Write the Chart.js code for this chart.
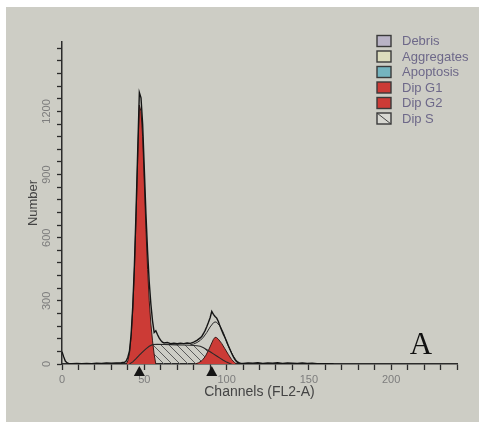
<!DOCTYPE html>
<html>
<head>
<meta charset="utf-8">
<title>DNA histogram A</title>
<script src="https://cdn.jsdelivr.net/npm/chart.js@4.4.1/dist/chart.umd.min.js"></script>
<style>
  html, body { margin: 0; padding: 0; background: #ffffff; }
  #hist { display: block; }
</style>
</head>
<body>
<canvas id="hist" width="479" height="422"></canvas>
<script>
// --- Histogram data (channel, count) ---
const totalChannels = [0,1,2,3,4,6,9,12,15,18,21,24,27,30,33,36,38,39,40,41,42,43,44,45,46,47,48,49,50,51,52,53,54,55,56,57,58,59,60,61,62,64,66,68,70,72,74,76,78,80,82,84,85,86,87,88,89,90,91,92,93,94,95,96,97,98,99,100,101,102,103,104,105,106,107,108,110,113,116,119,122,125,128,131,134,137,140,143,146,149,152,155,160,165];
const totalCounts = [58,35,14,6,3,2,3,2,3,2,4,3,5,4,5,6,8,14,32,62,140,275,470,728,1015,1290,1265,1140,930,715,535,390,285,205,150,158,140,124,112,104,100,102,97,99,96,99,97,100,98,104,112,124,132,145,160,178,198,220,250,236,226,218,202,180,160,142,126,108,88,70,52,36,22,12,6,4,3,5,4,6,3,5,4,6,3,5,4,3,5,3,4,2,1,0];

// model fit around the G2 peak
const fitChannels = [78,80,82,84,86,88,90,92,93,94,96,98,100,102,104,106,108,110];
const fitCounts = [92,95,102,112,128,150,176,196,200,198,180,150,104,70,38,16,5,0];

const g1Channels = [39,40,41,42,43,44,45,46,47,48,49,50,51,52,53,54,55,56,57];
const g1Counts = [0,15,50,130,260,450,700,980,1230,1200,1080,860,640,450,300,190,110,45,0];

const g2Channels = [81,83,85,87,89,91,92,93,94,95,97,99,101,103,105,106];
const g2Counts = [0,6,16,35,65,100,117,127,125,118,98,72,46,22,6,0];

const sChannels = [41,43,45,47,49,51,53,55,58,62,66,70,74,78,82,84,86,88,90,92,94,96,98,100,102,103];
const sCounts = [0,10,25,42,58,72,84,92,94,93,92,91,90,89,87,84,77,68,58,48,38,28,18,9,2,0];

const markerChannels = [47, 91];

const xTickLabels = [0, 50, 100, 150, 200];
const yTickLabels = [0, 300, 600, 900, 1200];

const legendLabels = ['Debris', 'Aggregates', 'Apoptosis', 'Dip G1', 'Dip G2', 'Dip S'];

// --- styles ---
const PAPER = '#cdcdc5';
const INK = '#2b2b2b';
const RED = '#cc3b36';
const legendFills = ['#b9b3c6', '#dcdcbc', '#74b4bf', RED, RED, 'hatch'];

function toPoints(chs, vals) {
    return chs.map((c, i) => ({ x: c, y: vals[i] }));
}

function makeHatch() {
    const c = document.createElement('canvas');
    c.width = 8; c.height = 8;
    const p = c.getContext('2d');
    p.strokeStyle = '#5a5a5a';
    p.lineWidth = 1;
    p.beginPath();
    p.moveTo(0, 0); p.lineTo(8, 8);
    p.moveTo(-1, 7); p.lineTo(1, 9);
    p.moveTo(7, -1); p.lineTo(9, 1);
    p.stroke();
    return p.createPattern(c, 'repeat');
}

const ctx = document.getElementById('hist').getContext('2d');
const hatch = makeHatch();

// --- plugins: paper, cycle markers, legend, panel letter ---
const paperPlugin = {
    id: 'paper',
    beforeDraw(chart) {
        const c = chart.ctx;
        c.save();
        c.fillStyle = '#ffffff';
        c.fillRect(0, 0, chart.width, chart.height);
        c.fillStyle = PAPER;
        c.fillRect(6, 7, chart.width - 6, chart.height - 7);
        c.restore();
    }
};

const markerPlugin = {
    id: 'markers',
    afterDraw(chart) {
        const c = chart.ctx;
        const xs = chart.scales.x;
        const base = chart.chartArea.bottom;
        c.save();
        c.fillStyle = '#151515';
        markerChannels.forEach(ch => {
            const px = xs.getPixelForValue(ch);
            c.beginPath();
            c.moveTo(px, base + 2);
            c.lineTo(px + 5.5, base + 12);
            c.lineTo(px - 5.5, base + 12);
            c.closePath();
            c.fill();
        });
        c.restore();
    }
};

const legendPlugin = {
    id: 'cornerLegend',
    afterDraw(chart) {
        const c = chart.ctx;
        c.save();
        c.font = '13px "Liberation Sans", Arial, sans-serif';
        c.textBaseline = 'middle';
        legendLabels.forEach((label, i) => {
            const cy = 41 + i * 15.5;
            const bx = 377, by = cy - 5.5, bw = 14, bh = 11;
            if (legendFills[i] === 'hatch') {
                c.fillStyle = '#d8d8d2';
                c.fillRect(bx, by, bw, bh);
                c.strokeStyle = '#444';
                c.lineWidth = 1;
                c.beginPath();
                c.moveTo(bx, by); c.lineTo(bx + bw, by + bh);
                c.stroke();
            } else {
                c.fillStyle = legendFills[i];
                c.fillRect(bx, by, bw, bh);
            }
            c.strokeStyle = '#3a3a3a';
            c.lineWidth = 1.4;
            c.strokeRect(bx, by, bw, bh);
            c.fillStyle = '#6d6889';
            c.fillText(label, 402, cy + 0.5);
        });
        c.restore();
    }
};

const letterPlugin = {
    id: 'panelLetter',
    afterDraw(chart) {
        const c = chart.ctx;
        c.save();
        c.font = '31px "Liberation Serif", "Times New Roman", serif';
        c.fillStyle = '#111';
        c.textAlign = 'center';
        c.textBaseline = 'alphabetic';
        c.fillText('A', 421, 354);
        c.restore();
    }
};

// --- datasets (first in list is drawn on top) ---
const lineBase = { pointRadius: 0, tension: 0, fill: false };

new Chart(ctx, {
    type: 'line',
    data: {
        datasets: [
            Object.assign({}, lineBase, { label: 'Total', data: toPoints(totalChannels, totalCounts), borderColor: '#141414', borderWidth: 1.4 }),
            Object.assign({}, lineBase, { label: 'Fit', data: toPoints(fitChannels, fitCounts), borderColor: '#2a2a2a', borderWidth: 1 }),
            Object.assign({}, lineBase, { label: 'Dip S outline', data: toPoints(sChannels, sCounts), borderColor: '#2a2a2a', borderWidth: 1.1 }),
            Object.assign({}, lineBase, { label: 'Dip G2', data: toPoints(g2Channels, g2Counts), borderColor: '#3a1a18', borderWidth: 1, backgroundColor: RED, fill: 'origin' }),
            Object.assign({}, lineBase, { label: 'Dip G1', data: toPoints(g1Channels, g1Counts), borderColor: '#3a1a18', borderWidth: 1, backgroundColor: RED, fill: 'origin' }),
            Object.assign({}, lineBase, { label: 'Dip S', data: toPoints(sChannels, sCounts), borderWidth: 0, borderColor: 'rgba(0,0,0,0)', backgroundColor: hatch, fill: 'origin' })
        ]
    },
    options: {
        responsive: false,
        animation: false,
        devicePixelRatio: 1,
        layout: { padding: { top: 42, right: 22, left: 0, bottom: 0 } },
        plugins: { legend: { display: false }, tooltip: { enabled: false } },
        scales: {
            x: {
                type: 'linear',
                min: 0,
                max: 240,
                afterFit: s => { s.height = 58; },
                border: { color: INK, width: 1.5 },
                grid: { drawOnChartArea: false, tickLength: 6, tickColor: INK, tickWidth: 1.3 },
                ticks: {
                    stepSize: 10,
                    autoSkip: false,
                    maxRotation: 0,
                    padding: 3,
                    color: '#7d7d7d',
                    font: { family: '"Liberation Sans", Arial, sans-serif', size: 11 },
                    callback: v => xTickLabels.includes(v) ? String(v) : ''
                },
                title: {
                    display: true,
                    text: 'Channels (FL2-A)',
                    color: '#444',
                    font: { family: '"Liberation Sans", Arial, sans-serif', size: 14 },
                    padding: { bottom: 21 }
                }
            },
            y: {
                min: 0,
                max: 1530,
                afterFit: s => { s.width = 62; },
                border: { color: INK, width: 1.5 },
                grid: { drawOnChartArea: false, tickLength: 5, tickColor: INK, tickWidth: 1.3 },
                ticks: {
                    stepSize: 60,
                    includeBounds: false,
                    autoSkip: false,
                    minRotation: 90,
                    maxRotation: 90,
                    crossAlign: 'center',
                    padding: -2,
                    color: '#7d7d7d',
                    font: { family: '"Liberation Sans", Arial, sans-serif', size: 11 },
                    callback: v => yTickLabels.includes(v) ? String(v) : ''
                },
                title: {
                    display: true,
                    text: 'Number',
                    color: '#444',
                    font: { family: '"Liberation Sans", Arial, sans-serif', size: 13 },
                    padding: { top: 26 }
                }
            }
        }
    },
    plugins: [paperPlugin, markerPlugin, legendPlugin, letterPlugin]
});
</script>
</body>
</html>
